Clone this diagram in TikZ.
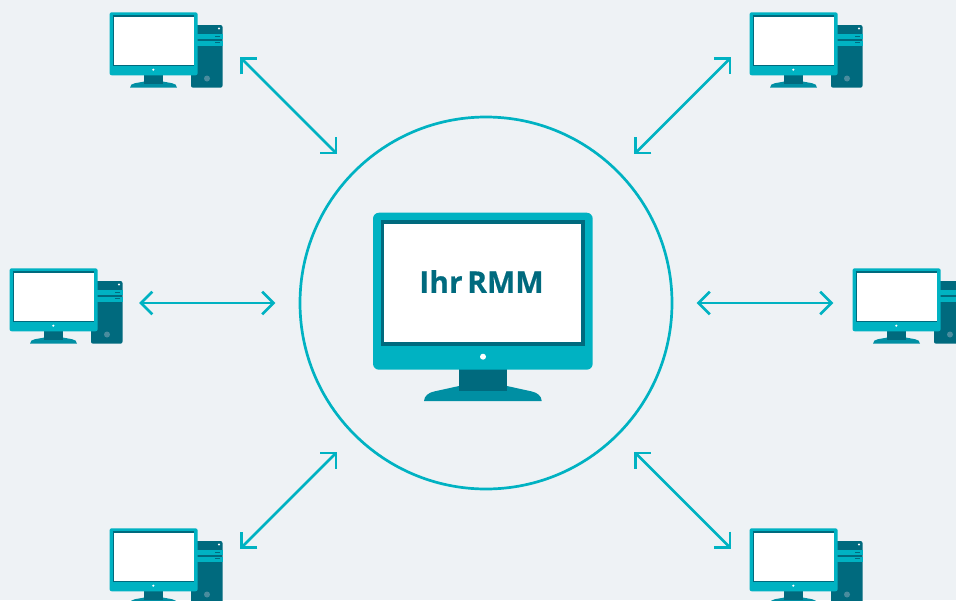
\documentclass[tikz,border=0pt]{standalone}
\usepackage{fontspec}
\setmainfont{Open Sans}
\usetikzlibrary{arrows.meta}
\definecolor{bgc}{HTML}{EEF2F5}
\definecolor{teal1}{HTML}{00B2C2}
\definecolor{teal2}{HTML}{006A7E}
\definecolor{teal3}{HTML}{008FA3}
\definecolor{teal4}{HTML}{4A8C9E}
\pgfdeclarearrow{
  name=SquareBarb,
  setup code={
    \pgfarrowssettipend{0pt}
    \pgfarrowssetlineend{-1pt}
    \pgfarrowssetbackend{-11.3pt}
  },
  drawing code={
    \pgfsetlinewidth{2.7pt}
    \pgfsetmiterjoin
    \pgfsetbuttcap
    \pgfpathmoveto{\pgfqpoint{-11.3pt}{11.3pt}}
    \pgfpathlineto{\pgfqpoint{0pt}{0pt}}
    \pgfpathlineto{\pgfqpoint{-11.3pt}{-11.3pt}}
    \pgfusepathqstroke
  }
}
\tikzset{
  link/.style={draw=teal1,line width=2.7pt,{SquareBarb}-{SquareBarb}},
  hubring/.style={circle,draw=teal1,line width=2.7pt,minimum size=372pt,inner sep=0pt},
  pc/.pic={
    % tower
    \fill[teal2,rounded corners=2pt] (191,25) rectangle (222.5,87.7);
    \fill[teal1] (197,34) rectangle (222.5,39.2);
    \fill[teal1] (197,40.5) rectangle (222.5,45.7);
    \fill[teal2] (215,35.8) rectangle (219.5,36.8);
    \fill[teal2] (215,42) rectangle (219.5,43);
    \fill[white] (219,28.5) circle[radius=1.2pt];
    \fill[teal4] (207,78.5) circle[radius=3pt];
    % base and neck
    \fill[teal3] (130,87.7) .. controls (130,85) and (132,83.6) .. (135,83.2) -- (144,81.6) -- (163.3,81.6) -- (172,83.2) .. controls (175,83.6) and (177,85) .. (177,87.7) -- cycle;
    \fill[teal2] (144,75) rectangle (163.3,84);
    % monitor
    \fill[teal1,rounded corners=2.2pt] (109.5,12.3) rectangle (197.7,75.3);
    \fill[teal2] (113,15.3) rectangle (194.3,66);
    \fill[white] (113.7,17.3) rectangle (193.6,65);
    \fill[white] (153.3,69.7) circle[radius=1.2pt];
  }
}
\begin{document}
\begin{tikzpicture}[x=1pt,y=-1pt]
  \clip (0,0) rectangle (956,600);
  \fill[bgc] (0,0) rectangle (956,600);

  \node[hubring] (hub) at (486,303) {};

  % central monitor
  \fill[teal3] (424,401) .. controls (424,396) and (429,392.5) .. (434,391.5) -- (459,386) -- (507,386) -- (532,391.5) .. controls (537,392.5) and (541.7,396) .. (541.7,401) -- cycle;
  \fill[teal2] (459,369) rectangle (507,391);
  \fill[teal1,rounded corners=6pt] (373,212.7) rectangle (592.7,369.7);
  \fill[teal2] (381,220) rectangle (585.3,346);
  \fill[white] (384,224) rectangle (581,342);
  \fill[white] (483,356.7) circle[radius=3pt];
  \node[text=teal2,font={\fontspec{Open Sans}[Scale=1,FakeBold=0.5,WordSpace=0.6]\bfseries\fontsize{30}{32}\selectfont},inner sep=0pt] (rmm) at (481.5,281.5) {Ihr RMM};

  % workstations
  \pic at (0,0) {pc};
  \pic at (640,0) {pc};
  \pic at (-100,256) {pc};
  \pic at (743,256) {pc};
  \pic at (0,516) {pc};
  \pic at (640,516) {pc};

  % link ends
  \coordinate (tlA) at (241.5,58.5); \coordinate (tlB) at (336,153);
  \coordinate (trA) at (730,58.5);   \coordinate (trB) at (635.5,153);
  \coordinate (mlA) at (141,303);    \coordinate (mlB) at (273.5,303);
  \coordinate (mrA) at (831.5,303);  \coordinate (mrB) at (698.5,303);
  \coordinate (blA) at (241.5,547.5);\coordinate (blB) at (336,453);
  \coordinate (brA) at (730,547.5);  \coordinate (brB) at (635.5,453);
  \draw[link] (tlA) -- (tlB);
  \draw[link] (trA) -- (trB);
  \draw[link] (mlA) -- (mlB);
  \draw[link] (mrA) -- (mrB);
  \draw[link] (blA) -- (blB);
  \draw[link] (brA) -- (brB);
\end{tikzpicture}
\end{document}
